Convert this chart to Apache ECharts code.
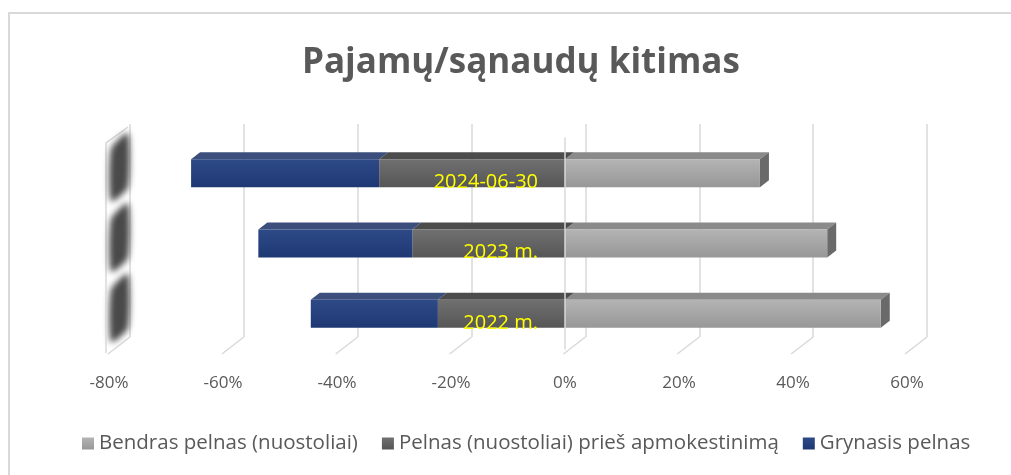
<!DOCTYPE html>
<html>
<head>
<meta charset="utf-8">
<script src="https://cdn.jsdelivr.net/npm/echarts@6/dist/echarts.min.js"></script>
<style>
html, body { margin: 0; padding: 0; background: #fff; }
#chart { width: 1011px; height: 475px; }
</style>
</head>
<body>
<div id="chart"></div>
<script>
// kategorijos (apačia -> viršus)
const categories = ["2022 m.", "2023 m.", "2024-06-30"];
// serijų reikšmės, %
const bendrasPelnas = [55.4, 46.0, 34.2];
const pelnasPriesMokescius = [-22.3, -26.8, -32.6];
const grynasisPelnas = [-22.3, -27.0, -33.0];
// ašies padalos
const ticks = [-80, -60, -40, -20, 0, 20, 40, 60];

const seriesNames = [
    "Bendras pelnas (nuostoliai)",
    "Pelnas (nuostoliai) prieš apmokestinimą",
    "Grynasis pelnas",
];
const fontFamily = "'Open Sans', 'Liberation Sans', sans-serif";
const textColor = "#595959";
const BAR_W = 28;
const DX = 9, DY = 7; // 3D gylis

function grad(top, bottom) {
    return new echarts.graphic.LinearGradient(0, 0, 0, 1, [
        { offset: 0, color: top },
        { offset: 1, color: bottom },
    ]);
}
const frontColors = [grad("#b4b4b4", "#979797"), grad("#707070", "#565656"), grad("#2e4a86", "#1e3874")];
const topColors = ["#8a8a8a", "#4c4c4c", "#3c4f7c"];
const sideColors = ["#6a6a6a", "#404040", "#26345a"];

// 3D viršutinių sienelių duomenys: [nuo, iki, kategorija, serija, paskutinis]
const faceData = [];
categories.forEach((c, i) => {
    faceData.push([0, bendrasPelnas[i], i, 0, 1]);
    faceData.push([0, pelnasPriesMokescius[i], i, 1, 0]);
    faceData.push([pelnasPriesMokescius[i], pelnasPriesMokescius[i] + grynasisPelnas[i], i, 2, 0]);
});

const chart = echarts.init(document.getElementById("chart"));
chart.setOption({
    backgroundColor: "#fff",
    animation: false,
    textStyle: { fontFamily: fontFamily },
    graphic: [
        {
            type: "rect",
            z: -10,
            shape: { x: 9, y: 13, width: 1200, height: 600 },
            style: { fill: "none", stroke: "#d9d9d9", lineWidth: 2 },
        },
    ],
    title: {
        text: "Pajamų/sąnaudų kitimas",
        left: 297,
        top: 41,
        textStyle: { fontFamily: fontFamily, fontSize: 35, fontWeight: "bold", color: textColor },
    },
    legend: {
        bottom: 16,
        left: 77,
        itemWidth: 12,
        itemHeight: 12,
        itemGap: 24,
        icon: "rect",
        textStyle: { fontSize: 20.5, color: textColor, fontFamily: fontFamily },
        data: seriesNames,
    },
    grid: [
        { left: 109, right: 104, top: 138, bottom: 126, outerBoundsMode: "none" },
        // galinė sienelė su tinklelio linijomis
        { left: 130, right: 84, top: 124, bottom: 138, outerBoundsMode: "none" },
    ],
    xAxis: [
        {
            gridIndex: 0,
            type: "value",
            min: -80,
            max: 60,
            interval: 20,
            axisLine: { show: false },
            axisTick: { show: false },
            splitLine: { show: false },
            axisLabel: {
                margin: 26,
                fontSize: 17,
                color: textColor,
                formatter: (v) => v + "%",
            },
        },
        {
            gridIndex: 1,
            type: "value",
            min: -80,
            max: 60,
            interval: 20,
            axisLine: { show: false },
            axisTick: { show: false },
            axisLabel: { show: false },
            splitLine: { show: true, lineStyle: { color: "#d9d9d9", width: 1.5 } },
        },
    ],
    yAxis: [
        {
            gridIndex: 0,
            type: "category",
            data: categories,
            z: 5,
            axisLine: { show: true, onZero: true, lineStyle: { color: "#d9d9d9", width: 1.5 } },
            axisTick: { show: false },
            axisLabel: { show: false },
        },
        {
            gridIndex: 1,
            type: "value",
            min: 0,
            max: 1,
            show: false,
        },
    ],
    series: [
        {
            name: seriesNames[0],
            type: "bar",
            stack: "all",
            barWidth: BAR_W,
            itemStyle: { color: frontColors[0] },
            data: bendrasPelnas,
        },
        {
            name: seriesNames[1],
            type: "bar",
            stack: "all",
            barWidth: BAR_W,
            itemStyle: { color: frontColors[1] },
            data: pelnasPriesMokescius,
        },
        {
            name: seriesNames[2],
            type: "bar",
            stack: "all",
            barWidth: BAR_W,
            itemStyle: { color: frontColors[2] },
            data: grynasisPelnas,
        },
        // 3D viršus ir šonas
        {
            type: "custom",
            xAxisIndex: 0,
            yAxisIndex: 0,
            silent: true,
            encode: { x: [0, 1], y: 2 },
            data: faceData,
            renderItem: (params, api) => {
                const s = api.value(3);
                const p0 = api.coord([api.value(0), api.value(2)]);
                const p1 = api.coord([api.value(1), api.value(2)]);
                const yT = p0[1] - BAR_W / 2;
                const yB = p0[1] + BAR_W / 2;
                const xl = Math.min(p0[0], p1[0]);
                const xr = Math.max(p0[0], p1[0]);
                const children = [
                    {
                        type: "polygon",
                        shape: { points: [[xl, yT], [xr, yT], [xr + DX, yT - DY], [xl + DX, yT - DY]] },
                        style: { fill: topColors[s] },
                    },
                ];
                if (api.value(4)) {
                    children.push({
                        type: "polygon",
                        shape: { points: [[xr, yT], [xr + DX, yT - DY], [xr + DX, yB - DY], [xr, yB]] },
                        style: { fill: sideColors[s] },
                    });
                }
                return { type: "group", children: children };
            },
        },
        // kategorijų pavadinimai ties 0
        {
            type: "custom",
            xAxisIndex: 0,
            yAxisIndex: 0,
            silent: true,
            z: 6,
            data: categories.map((c, i) => [0, i]),
            renderItem: (params, api) => {
                const p = api.coord([0, api.value(1)]);
                return {
                    type: "text",
                    x: p[0] - 27,
                    y: p[1] + 9,
                    style: {
                        text: categories[params.dataIndex],
                        fill: "#ffff00",
                        fontSize: 20,
                        fontFamily: fontFamily,
                        align: "right",
                        verticalAlign: "middle",
                    },
                };
            },
        },
        // grindų įstrižainės
        {
            type: "custom",
            xAxisIndex: 1,
            yAxisIndex: 1,
            silent: true,
            z: 0,
            data: ticks.map((t) => [t, 0]),
            renderItem: (params, api) => {
                const p = api.coord([api.value(0), 0]);
                return {
                    type: "line",
                    shape: { x1: p[0], y1: p[1], x2: p[0] - 22, y2: p[1] + 17 },
                    style: { stroke: "#d9d9d9", lineWidth: 1.5 },
                };
            },
        },
        // kairioji sienelė
        {
            type: "custom",
            xAxisIndex: 0,
            yAxisIndex: 0,
            silent: true,
            clip: false,
            z: 1,
            data: categories.map((c, i) => [ticks[0], i]),
            renderItem: (params, api) => {
                const p = api.coord([api.value(0), api.value(1)]);
                const h = api.size([0, 1])[1];
                const x0 = p[0];
                const far = 3000;
                const children = [
                    {
                        // tik suliedytas šešėlis
                        type: "polygon",
                        shape: {
                            points: [
                                [x0 + 2 - far, p[1] + h / 2 - 7],
                                [x0 + 2 - far, p[1] - h / 2 + 11],
                                [x0 + 19 - far, p[1] - h / 2 - 5],
                                [x0 + 19 - far, p[1] + h / 2 - 21],
                            ],
                            smooth: 0.2,
                        },
                        style: {
                            fill: "#4a4a4a",
                            shadowBlur: 6,
                            shadowColor: "#4a4a4a",
                            shadowOffsetX: far,
                        },
                    },
                ];
                if (params.dataIndex === 0) {
                    // priekinis kraštas ir viršutinė įstrižainė
                    const yBot = p[1] + h / 2 + 4;
                    const yTop = p[1] - h * (categories.length - 0.5) + 5;
                    children.push({
                        type: "polyline",
                        shape: { points: [[x0 - 3, yBot], [x0 - 3, yTop], [x0 + 19, yTop - 16]] },
                        style: { stroke: "#d9d9d9", lineWidth: 1.5, fill: "none" },
                    });
                }
                return { type: "group", children: children };
            },
        },
    ],
});
</script>
</body>
</html>
